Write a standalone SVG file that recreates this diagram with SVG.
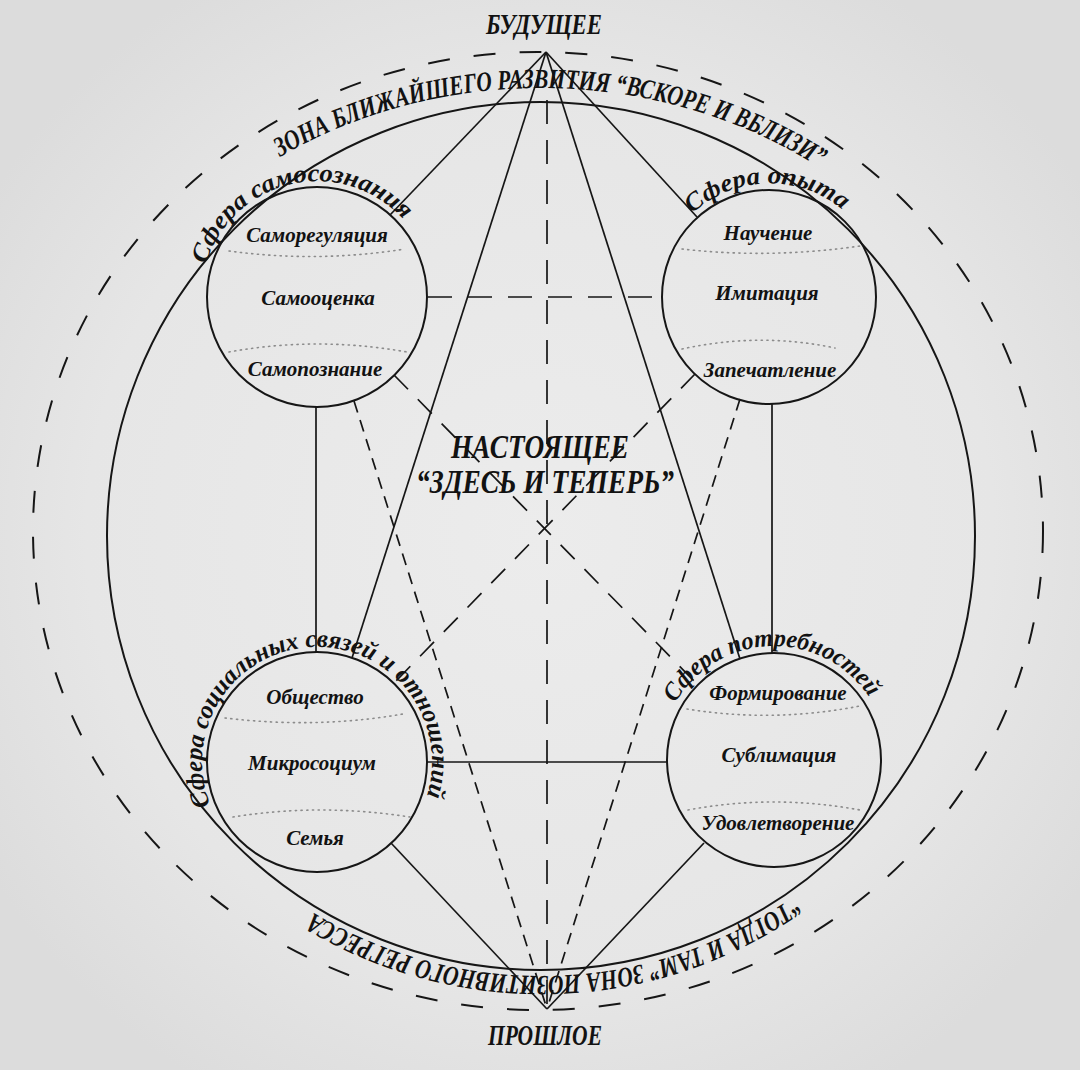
<svg xmlns="http://www.w3.org/2000/svg" width="1080" height="1070" viewBox="0 0 1080 1070">
<defs>
<style>
.ln{stroke:#161616;stroke-width:1.7;fill:none}
.ring{stroke:#161616;stroke-width:2;fill:none}
.dl{stroke-dasharray:24 16}
.dx{stroke-dasharray:20 14}
.ds{stroke-dasharray:12 8}
.de{stroke-dasharray:22 24}
.dot{stroke:#8c8c8c;stroke-width:1.6;stroke-dasharray:1.2 4.5;stroke-linecap:round;fill:none}
.t{font-family:"Liberation Serif","DejaVu Serif",serif;font-weight:bold;font-style:italic;fill:#121212}
.item{font-size:21px;text-anchor:middle}
.sph{font-size:25px}
.zone{font-size:28px}
.big{font-size:33px;text-anchor:middle}
.pole{font-size:30px;text-anchor:middle}
</style>
<radialGradient id="bg" cx="50%" cy="50%" r="60%">
<stop offset="0" stop-color="#ececec"/>
<stop offset="0.7" stop-color="#e6e6e6"/>
<stop offset="1" stop-color="#dcdcdc"/>
</radialGradient>
<path id="pTop" d="M 280 156.9 A 490 448 0 0 1 856 192.8"/>
<path id="pBot" d="M 793.4 896.4 A 440 440 0 0 1 288.6 896.4"/>
<path id="pTL" d="M 206 264.3 A 116 116 0 0 1 405.9 222.4"/>
<path id="pTR" d="M 692.2 213.6 A 114 114 0 0 1 845.3 212.3"/>
<path id="pBL" d="M 210.4 805.1 A 115 115 0 1 1 423.6 805.1"/>
<path id="pBR" d="M 675.3 703 A 114 114 0 0 1 872.7 703"/>
</defs>
<rect width="1080" height="1070" fill="url(#bg)"/>

<g id="frame">
<ellipse class="ring de" cx="538" cy="531" rx="505" ry="479"/>
<circle class="ring" cx="541" cy="536" r="434"/>
</g>

<g id="connectors">
<line class="ln" x1="546" y1="52" x2="390" y2="215"/>
<line class="ln" x1="546" y1="52" x2="697" y2="217"/>
<line class="ln" x1="546" y1="52" x2="352" y2="658"/>
<line class="ln" x1="546" y1="52" x2="740" y2="659"/>
<line class="ln dl" x1="547" y1="100" x2="547" y2="1008"/>
<line class="ln dl" x1="428" y1="297" x2="662" y2="297"/>
<line class="ln" x1="427" y1="762" x2="666" y2="762"/>
<line class="ln" x1="316" y1="407" x2="316" y2="652"/>
<line class="ln" x1="772" y1="404" x2="772" y2="653"/>
<line class="ln dx" x1="394" y1="375" x2="698" y2="685"/>
<line class="ln dx" x1="695" y1="374" x2="394" y2="683"/>
<line class="ln ds" x1="354" y1="401" x2="547" y2="1009"/>
<line class="ln ds" x1="740" y1="399" x2="547" y2="1009"/>
<line class="ln" x1="391" y1="843" x2="547" y2="1009"/>
<line class="ln" x1="704" y1="843" x2="547" y2="1009"/>
</g>

<g id="future"><text class="t pole" x="544" y="34" textLength="116" lengthAdjust="spacingAndGlyphs">БУДУЩЕЕ</text></g>
<g id="past"><text class="t pole" x="545" y="1045" textLength="114" lengthAdjust="spacingAndGlyphs">ПРОШЛОЕ</text></g>
<g id="present">
<text class="t big" x="540" y="458" textLength="178" lengthAdjust="spacingAndGlyphs">НАСТОЯЩЕЕ</text>
<text class="t big" x="545" y="493" textLength="258" lengthAdjust="spacingAndGlyphs">“ЗДЕСЬ И ТЕПЕРЬ”</text>
</g>

<g id="zone-near">
<text class="t zone"><textPath href="#pTop" textLength="566" lengthAdjust="spacingAndGlyphs">ЗОНА БЛИЖАЙШЕГО РАЗВИТИЯ “ВСКОРЕ И ВБЛИЗИ”</textPath></text>
</g>
<g id="zone-regress">
<text class="t zone"><textPath href="#pBot" textLength="508" lengthAdjust="spacingAndGlyphs">“ТОГДА И ТАМ” ЗОНА ПОЗИТИВНОГО РЕГРЕССА</textPath></text>
</g>

<g id="sphere-self">
<circle class="ring" cx="317" cy="297" r="110"/>
<path class="dot" d="M 229 251 Q 317 263 405 249"/>
<path class="dot" d="M 229 352 Q 317 336 407 352"/>
<text class="t sph"><textPath href="#pTL" textLength="246" lengthAdjust="spacingAndGlyphs">Сфера самосознания</textPath></text>
<text class="t item" x="317" y="242">Саморегуляция</text>
<text class="t item" x="318" y="305">Самооценка</text>
<text class="t item" x="315" y="376">Самопознание</text>
</g>

<g id="sphere-experience">
<circle class="ring" cx="769" cy="297" r="107"/>
<path class="dot" d="M 682 249 Q 770 259 860 246"/>
<path class="dot" d="M 682 349 Q 760 332 835 348"/>
<text class="t sph"><textPath href="#pTR" textLength="164" lengthAdjust="spacingAndGlyphs">Сфера опыта</textPath></text>
<text class="t item" x="768" y="240">Научение</text>
<text class="t item" x="767" y="300">Имитация</text>
<text class="t item" x="770" y="377">Запечатление</text>
</g>

<g id="sphere-social">
<circle class="ring" cx="317" cy="762" r="110"/>
<path class="dot" d="M 225 718 Q 317 729 403 714"/>
<path class="dot" d="M 233 817 Q 320 803 410 817"/>
<text class="t sph"><textPath href="#pBL" textLength="440" lengthAdjust="spacingAndGlyphs">Сфера социальных связей и отношений</textPath></text>
<text class="t item" x="315" y="704">Общество</text>
<text class="t item" x="312" y="770">Микросоциум</text>
<text class="t item" x="315" y="845">Семья</text>
</g>

<g id="sphere-needs">
<circle class="ring" cx="774" cy="760" r="107"/>
<path class="dot" d="M 687 709 Q 773 723 860 706"/>
<path class="dot" d="M 688 810 Q 773 794 860 810"/>
<text class="t sph"><textPath href="#pBR" textLength="232" lengthAdjust="spacingAndGlyphs">Сфера потребностей</textPath></text>
<text class="t item" x="778" y="700">Формирование</text>
<text class="t item" x="779" y="762">Сублимация</text>
<text class="t item" x="778" y="830">Удовлетворение</text>
</g>
</svg>
